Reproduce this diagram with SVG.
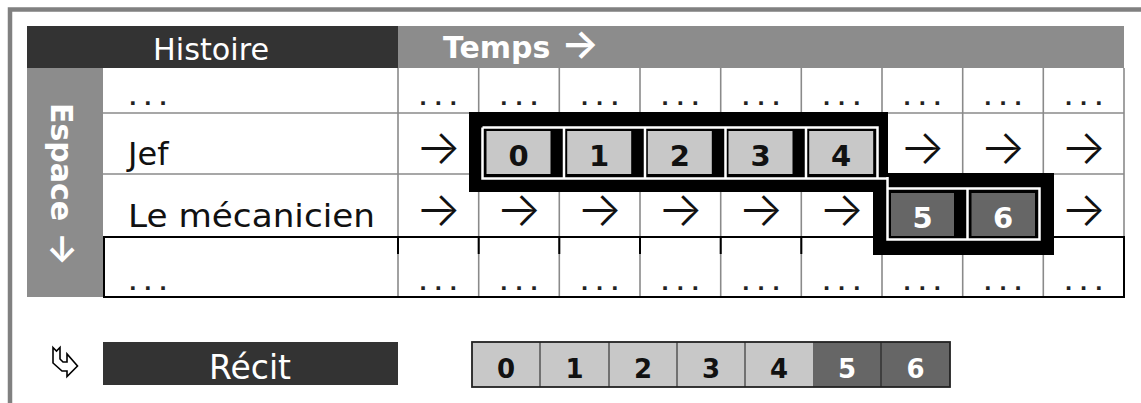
<svg xmlns="http://www.w3.org/2000/svg" width="1141" height="403" viewBox="0 0 1141 403">
<style>
.t{font-family:"DejaVu Sans","Liberation Sans",sans-serif}
.lbl{font-family:"DejaVu Sans","Liberation Sans",sans-serif;font-size:32px;fill:#111}
.dots{font-family:"DejaVu Sans",sans-serif;font-size:20px;font-weight:bold;fill:#222;letter-spacing:7.5px;text-anchor:middle}
.dl{font-family:"DejaVu Sans",sans-serif;font-size:20px;font-weight:bold;fill:#222;letter-spacing:7.5px;text-anchor:start}
.arr{font-family:Inter,"DejaVu Sans",sans-serif;font-size:48px;font-weight:300;fill:#111;text-anchor:middle}
.ia{font-family:Inter,"DejaVu Sans",sans-serif}
.g{stroke:#8a8a8a;stroke-width:1.6;fill:none}
.k{stroke:#000;stroke-width:2;fill:none}
.dig{font-family:"DejaVu Sans",sans-serif;font-weight:bold;font-size:29px;text-anchor:middle}
.bd{font-family:"DejaVu Sans",sans-serif;font-weight:bold;font-size:26px;text-anchor:middle}
.lc{fill:#c8c8c8}
.dc{fill:#666}
</style>
<rect x="0" y="0" width="1141" height="403" fill="#fff"/>
<rect x="10" y="9.5" width="1200" height="500" fill="none" stroke="#808080" stroke-width="4.5"/>

<g id="header">
<rect x="27" y="26" width="371" height="42" fill="#333"/>
<text x="211" y="60" class="t" font-size="31" fill="#fff" text-anchor="middle" textLength="116" lengthAdjust="spacingAndGlyphs">Histoire</text>
<rect x="398" y="26" width="726" height="42" fill="#8c8c8c"/>
<text x="443" y="58" class="t" font-size="30" font-weight="bold" fill="#fff">Temps <tspan class="ia" font-weight="600" font-size="40">→</tspan></text>
</g>

<g id="espace">
<rect x="27" y="68" width="76" height="229" fill="#8c8c8c"/>
<text transform="translate(51,103) rotate(90)" class="t" font-size="30" font-weight="bold" fill="#fff">Espace <tspan class="ia" font-weight="600" font-size="36">→</tspan></text>
</g>

<g id="grid">
<line class="g" x1="103" y1="113" x2="1124" y2="113"/>
<line class="g" x1="103" y1="174" x2="1124" y2="174"/>
<line class="g" x1="398" y1="68" x2="398" y2="297"/>
<line class="g" x1="478.7" y1="68" x2="478.7" y2="297"/>
<line class="g" x1="559.3" y1="68" x2="559.3" y2="297"/>
<line class="g" x1="640" y1="68" x2="640" y2="297"/>
<line class="g" x1="720.7" y1="68" x2="720.7" y2="297"/>
<line class="g" x1="801.3" y1="68" x2="801.3" y2="297"/>
<line class="g" x1="882" y1="68" x2="882" y2="297"/>
<line class="g" x1="962.7" y1="68" x2="962.7" y2="297"/>
<line class="g" x1="1043.3" y1="68" x2="1043.3" y2="297"/>
<line class="g" x1="1124" y1="68" x2="1124" y2="237"/>
<g class="k">
<line x1="103" y1="237" x2="1125" y2="237"/>
<line x1="103" y1="297" x2="1125" y2="297"/>
<line x1="104" y1="236" x2="104" y2="298"/>
<line x1="1124" y1="236" x2="1124" y2="298"/>
<line x1="398" y1="237" x2="398" y2="254"/>
<line x1="478.7" y1="237" x2="478.7" y2="254"/>
<line x1="559.3" y1="237" x2="559.3" y2="254"/>
<line x1="640" y1="237" x2="640" y2="254"/>
<line x1="720.7" y1="237" x2="720.7" y2="254"/>
<line x1="801.3" y1="237" x2="801.3" y2="254"/>
<line x1="882" y1="237" x2="882" y2="254"/>
<line x1="962.7" y1="237" x2="962.7" y2="254"/>
<line x1="1043.3" y1="237" x2="1043.3" y2="254"/>
</g>
</g>

<g id="row-labels">
<text x="129" y="105" class="dl">...</text>
<text x="128" y="165" class="lbl">Jef</text>
<text x="128" y="227" class="lbl" textLength="247" lengthAdjust="spacingAndGlyphs">Le mécanicien</text>
<text x="129" y="290" class="dl">...</text>
</g>

<g id="row1-dots">
<text x="442" y="105" class="dots">...</text>
<text x="522.7" y="105" class="dots">...</text>
<text x="603.4" y="105" class="dots">...</text>
<text x="684" y="105" class="dots">...</text>
<text x="764.7" y="105" class="dots">...</text>
<text x="845.4" y="105" class="dots">...</text>
<text x="926" y="105" class="dots">...</text>
<text x="1006.7" y="105" class="dots">...</text>
<text x="1087.4" y="105" class="dots">...</text>
</g>
<g id="row4-dots">
<text x="442" y="290" class="dots">...</text>
<text x="522.7" y="290" class="dots">...</text>
<text x="603.4" y="290" class="dots">...</text>
<text x="684" y="290" class="dots">...</text>
<text x="764.7" y="290" class="dots">...</text>
<text x="845.4" y="290" class="dots">...</text>
<text x="926" y="290" class="dots">...</text>
<text x="1006.7" y="290" class="dots">...</text>
<text x="1087.4" y="290" class="dots">...</text>
</g>

<g id="jef-arrows">
<text x="438.3" y="164" class="arr">→</text>
<text x="922.3" y="164" class="arr">→</text>
<text x="1003" y="164" class="arr">→</text>
<text x="1083.7" y="164" class="arr">→</text>
</g>
<g id="meca-arrows">
<text x="438.3" y="226" class="arr">→</text>
<text x="519" y="226" class="arr">→</text>
<text x="599.7" y="226" class="arr">→</text>
<text x="680.3" y="226" class="arr">→</text>
<text x="761" y="226" class="arr">→</text>
<text x="841.7" y="226" class="arr">→</text>
<text x="1083.7" y="226" class="arr">→</text>
</g>

<g id="selection">
<rect x="469" y="112" width="419" height="80" fill="#000"/>
<rect x="873" y="173" width="181" height="82" fill="#000"/>
<path d="M482.5,127.5 H877.5 V177.5 M482.5,127.5 V178.5 H887.5 M887.5,177 V239.5 H1039.5 V188.5 H887.5" fill="none" stroke="#fff" stroke-width="2.5"/>
<g stroke="#fff" stroke-width="2.5">
<line x1="564" y1="127.5" x2="564" y2="178.5"/>
<line x1="645" y1="127.5" x2="645" y2="178.5"/>
<line x1="725.5" y1="127.5" x2="725.5" y2="178.5"/>
<line x1="806" y1="127.5" x2="806" y2="178.5"/>
<line x1="967.5" y1="188.5" x2="967.5" y2="239.5"/>
</g>
</g>

<g id="story-cells">
<rect class="lc" x="486.5" y="131" width="64" height="43"/>
<rect class="lc" x="567.2" y="131" width="64" height="43"/>
<rect class="lc" x="647.8" y="131" width="64" height="43"/>
<rect class="lc" x="728.5" y="131" width="64" height="43"/>
<rect class="lc" x="809.2" y="131" width="64" height="43"/>
<rect class="dc" x="891" y="193" width="63" height="43"/>
<rect class="dc" x="971.5" y="193" width="63.5" height="43"/>
<text x="518.5" y="166" class="dig" fill="#111">0</text>
<text x="599.2" y="166" class="dig" fill="#111">1</text>
<text x="679.8" y="166" class="dig" fill="#111">2</text>
<text x="760.5" y="166" class="dig" fill="#111">3</text>
<text x="841.2" y="166" class="dig" fill="#111">4</text>
<text x="922.5" y="228" class="dig" fill="#fff">5</text>
<text x="1003.2" y="228" class="dig" fill="#fff">6</text>
</g>

<g id="icon">
<path d="M53,347.5 L56.5,351 L60,347.5 L60,359 L63,362 L67,362 L67,354 L77.5,366 L67,376.5 L67,371 L62,371 L53,363 Z" fill="#fff" stroke="#000" stroke-width="1.6" stroke-linejoin="miter"/>
</g>

<g id="recit">
<rect x="103" y="342" width="295" height="43" fill="#333"/>
<text x="250" y="379" class="t" font-size="33" fill="#fff" text-anchor="middle">Récit</text>
</g>

<g id="recit-cells">
<rect class="lc" x="472" y="342" width="341" height="45"/>
<rect class="dc" x="813" y="342" width="137" height="45"/>
<g stroke="#555" stroke-width="1.5">
<line x1="540" y1="342" x2="540" y2="387"/>
<line x1="609" y1="342" x2="609" y2="387"/>
<line x1="677" y1="342" x2="677" y2="387"/>
<line x1="745" y1="342" x2="745" y2="387"/>
<line x1="881" y1="342" x2="881" y2="387" stroke="#333"/>
</g>
<rect x="472" y="342" width="478" height="45" fill="none" stroke="#222" stroke-width="1.8"/>
<text x="506" y="378" class="bd" fill="#111">0</text>
<text x="574.5" y="378" class="bd" fill="#111">1</text>
<text x="643" y="378" class="bd" fill="#111">2</text>
<text x="711" y="378" class="bd" fill="#111">3</text>
<text x="779" y="378" class="bd" fill="#111">4</text>
<text x="847" y="378" class="bd" fill="#fff">5</text>
<text x="915.5" y="378" class="bd" fill="#fff">6</text>
</g>
</svg>
